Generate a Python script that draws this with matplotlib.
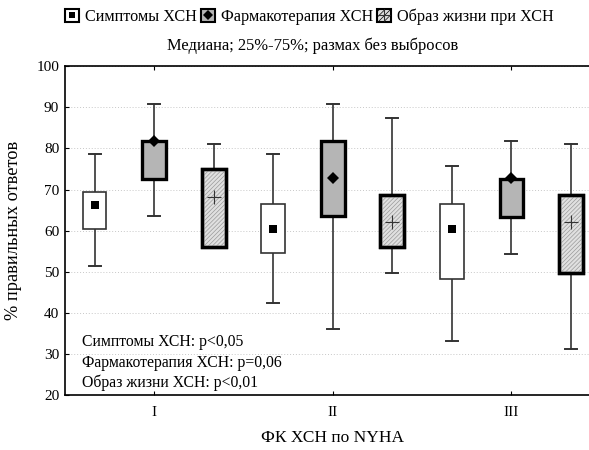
import matplotlib
matplotlib.use("Agg")
import matplotlib.pyplot as plt
from matplotlib.patches import Patch, PathPatch
from matplotlib.lines import Line2D

plt.rcParams['font.family'] = ['Liberation Serif', 'DejaVu Serif']
plt.rcParams['hatch.linewidth'] = 0.5

# data (percent of correct answers)
groups = ['I', 'II', 'III']
series = ['Симптомы ХСН', 'Фармакотерапия ХСН', 'Образ жизни при ХСН']
# order: group I (sympt, pharm, life), group II (...), group III (...)
whislo = [51.5, 63.5, 56.0, 42.3, 36.1, 49.8, 33.1, 54.4, 31.1]
q1 = [60.4, 72.5, 56.0, 54.5, 63.5, 56.1, 48.3, 63.4, 49.8]
med = [66.3, 81.8, 68.2, 60.3, 72.8, 62.0, 60.3, 72.8, 62.0]
q3 = [69.4, 81.8, 75.0, 66.4, 81.8, 68.6, 66.4, 72.6, 68.6]
whishi = [78.6, 90.8, 81.0, 78.6, 90.8, 87.4, 75.6, 81.7, 81.0]
p_notes = ['Симптомы ХСН: p<0,05', 'Фармакотерапия ХСН: p=0,06', 'Образ жизни ХСН: p<0,01']

positions = list(range(1, 10))
fig = plt.figure(figsize=(5.89, 4.5), dpi=100)
ax = fig.add_axes([0.110, 0.122, 0.910, 0.731])

stats = []
for i in range(9):
    stats.append(dict(whislo=whislo[i], q1=q1[i], med=med[i], q3=q3[i],
                      whishi=whishi[i], fliers=[]))

bp = ax.bxp(stats, positions=positions, widths=0.4, capwidths=0.2,
            patch_artist=True, showfliers=False,
            whiskerprops=dict(color='#333333', linewidth=1.2),
            capprops=dict(color='#333333', linewidth=1.4),
            medianprops=dict(linewidth=0))

face = ['white', '#b5b5b5', '#e0e0e0']
edge = ['#333333', 'black', 'black']
lw = [1.2, 2.4, 2.4]
markers = [dict(marker='s', ms=6, color='black', mew=0),
           dict(marker='D', ms=6.5, color='black', mew=0),
           dict(marker='+', ms=10, color='#333333', mew=0.8)]

for i, box in enumerate(bp['boxes']):
    k = i % 3
    box.set_facecolor(face[k])
    box.set_edgecolor(edge[k])
    box.set_linewidth(lw[k])
    box.set_zorder(3)
    if k == 2:
        hatch = PathPatch(box.get_path(), facecolor='none', edgecolor='#9a9a9a',
                          hatch='////////', linewidth=0, zorder=3.1)
        ax.add_patch(hatch)
        outline = PathPatch(box.get_path(), facecolor='none', edgecolor='black',
                            linewidth=lw[k], zorder=3.2)
        ax.add_patch(outline)

for k in range(3):
    ax.plot(positions[k::3], med[k::3], linestyle='none', zorder=4, **markers[k])

ax.set_xlim(0.5, 9.5)
ax.set_ylim(20, 100)
ax.set_yticks(range(20, 101, 10))
ax.set_xticks([2, 5, 8])
ax.set_xticklabels(groups)
ax.tick_params(axis='x', direction='in', length=3, top=True, labelsize=11, pad=8)
ax.tick_params(axis='y', direction='in', length=3, labelsize=11, pad=4)
ax.yaxis.grid(True, linestyle=(0, (1, 2)), color='#c8c8c8', linewidth=0.7)
ax.set_axisbelow(True)
ax.spines['right'].set_visible(False)
for s in ['left', 'top', 'bottom']:
    ax.spines[s].set_linewidth(1.2)

ax.set_xlabel('ФК ХСН по NYHA', fontsize=12.5, labelpad=8)
ax.set_ylabel('% правильных ответов', fontsize=13.2, labelpad=10)

for j, note in enumerate(p_notes):
    ax.text(0.032, 0.161 - j * 0.062, note, transform=ax.transAxes,
            fontsize=11.3, va='center', ha='left')

handles = []
for k in range(3):
    p = Patch(facecolor=face[k], edgecolor='black', linewidth=1.5,
              hatch='//////' if k == 2 else None)
    m = Line2D([], [], linestyle='none', **dict(markers[k], ms=markers[k]['ms'] * 0.8))
    handles.append((p, m))
fig.legend(handles, series, loc='center', bbox_to_anchor=(0.525, 0.962),
           ncol=3, frameon=False, fontsize=11.7, handlelength=0.85,
           handleheight=0.85, handletextpad=0.37, columnspacing=0.25,
           borderpad=0.1)
fig.text(0.530, 0.898, 'Медиана; 25%-75%; размах без выбросов', ha='center',
         va='center', fontsize=11.9)

fig.savefig('out.png', dpi=100)
